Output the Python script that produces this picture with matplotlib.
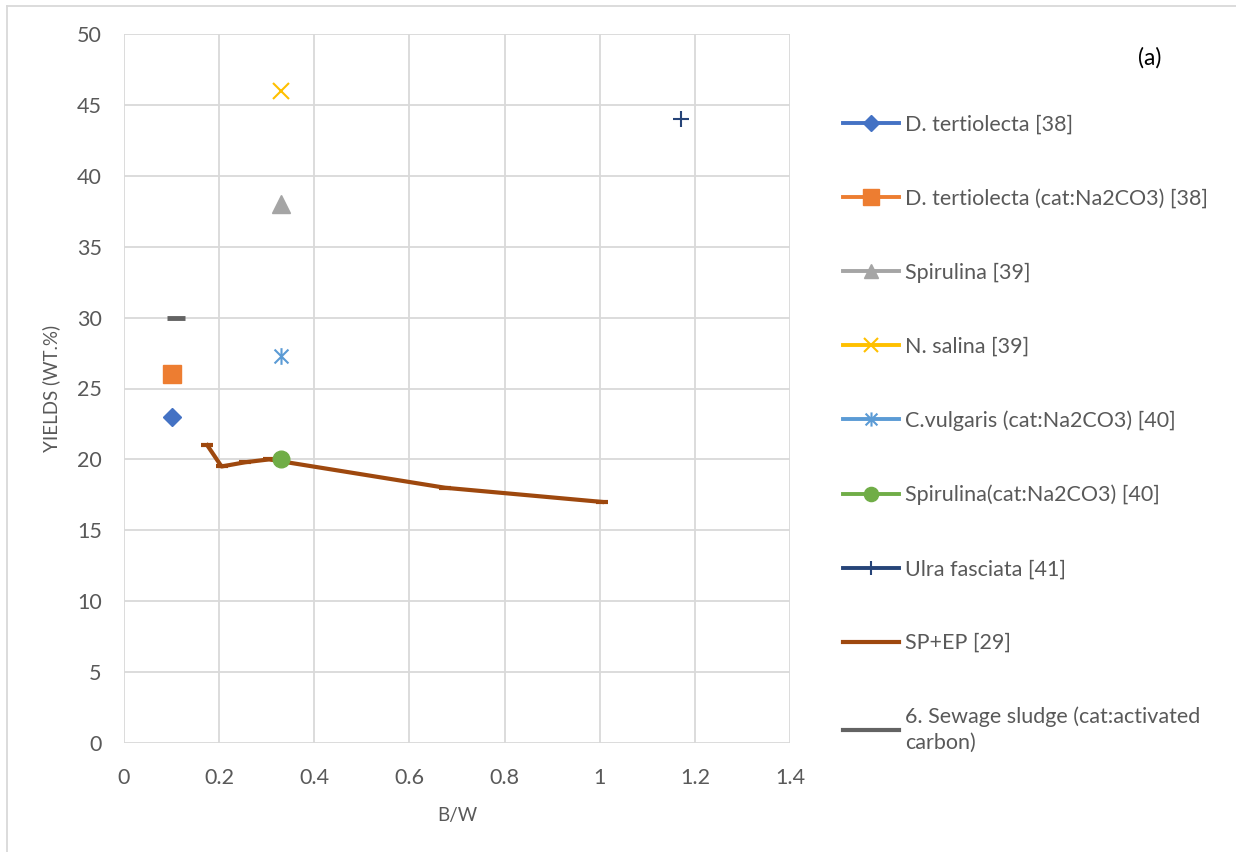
import numpy as np
import matplotlib.pyplot as plt
from matplotlib.path import Path
from matplotlib.lines import Line2D

# series (B/W ratio vs yield wt.%)
names = [
    "D. tertiolecta [38]",
    "D. tertiolecta (cat:Na2CO3) [38]",
    "Spirulina [39]",
    "N. salina [39]",
    "C.vulgaris (cat:Na2CO3) [40]",
    "Spirulina(cat:Na2CO3) [40]",
    "Ulra fasciata [41]",
]
point_x = [0.10, 0.10, 0.33, 0.33, 0.33, 0.33, 1.17]
point_y = [23.0, 26.0, 38.0, 46.0, 27.3, 20.0, 44.0]

sp_ep_x = [0.175, 0.205, 0.255, 0.305, 0.675, 1.005]
sp_ep_y = [21.0, 19.5, 19.8, 20.0, 18.0, 17.0]

sludge_x = [0.11]
sludge_y = [30.0]

x_ticks = [0, 0.2, 0.4, 0.6, 0.8, 1.0, 1.2, 1.4]
x_tick_labels = ["0", "0.2", "0.4", "0.6", "0.8", "1", "1.2", "1.4"]
y_ticks = [0, 5, 10, 15, 20, 25, 30, 35, 40, 45, 50]

plt.rcParams['font.family'] = ['Lato', 'DejaVu Sans']

# asterisk marker like Excel's (x plus vertical bar)
star = Path(
    [(-0.5, -0.5), (0.5, 0.5), (-0.5, 0.5), (0.5, -0.5), (0, -0.6), (0, 0.6)],
    [Path.MOVETO, Path.LINETO, Path.MOVETO, Path.LINETO, Path.MOVETO, Path.LINETO],
)

styles = [
    dict(color="#4472C4", marker="D", ms=9),
    dict(color="#ED7D31", marker="s", ms=13),
    dict(color="#A5A5A5", marker="^", ms=12.5),
    dict(color="#FFC000", marker="x", ms=12, mew=1.5),
    dict(color="#5B9BD5", marker=star, ms=12, mew=1.5),
    dict(color="#70AD47", marker="o", ms=12),
    dict(color="#264478", marker="+", ms=12, mew=1.5),
]

fig = plt.figure(figsize=(12.36, 8.52), dpi=100)
ax = fig.add_axes([124 / 1236, 109 / 852, 666 / 1236, 709 / 852])

handles = []
for i in range(len(names)):
    st = styles[i]
    ax.plot([point_x[i]], [point_y[i]], linestyle="none", color=st["color"],
            marker=st["marker"], ms=st["ms"], mew=st.get("mew", 1), zorder=4)
    handles.append(Line2D([], [], color=st["color"], lw=2.8, marker=st["marker"],
                          ms=st["ms"] * 0.85, mew=st.get("mew", 1)))

ax.plot(sp_ep_x, sp_ep_y, color="#9E480E", lw=3, marker="_", ms=9, mew=3, zorder=3)
handles.append(Line2D([], [], color="#9E480E", lw=3))
ax.plot(sludge_x, sludge_y, linestyle="none", color="#636363", marker="_", ms=13, mew=3.5, zorder=4)
handles.append(Line2D([], [], color="#636363", lw=3))

labels = names + ["SP+EP [29]", "6. Sewage sludge (cat:activated\ncarbon)"]

ax.set_xlim(0, 1.4)
ax.set_ylim(0, 50)
ax.set_xticks(x_ticks)
ax.set_xticklabels(x_tick_labels)
ax.set_yticks(y_ticks)
ax.grid(True, color="#D9D9D9", lw=1.3)
ax.set_axisbelow(True)
for s in ax.spines.values():
    s.set_visible(False)
ax.tick_params(length=0, labelsize=15.5, labelcolor="#595959")
ax.tick_params(axis="y", pad=16)
ax.tick_params(axis="x", pad=18)
ax.set_xlabel("B/W", fontsize=13.5, color="#595959", labelpad=14)
ax.set_ylabel("YIELDS (WT.%)", fontsize=13.5, color="#595959", labelpad=12)

leg = fig.legend(handles, labels, loc="upper left", bbox_to_anchor=(843 / 1236, 1 - 115 / 852),
                 frameon=False, fontsize=15.5, labelcolor="#595959", handlelength=2.6,
                 handletextpad=0.3, labelspacing=2.5, borderpad=0, borderaxespad=0)
for t in leg.get_texts():
    t.set_linespacing(1.35)

fig.text(1150 / 1236, 1 - 58 / 852, "(a)", fontsize=16.5, ha="center", va="center", color="black")

# outer chart frame
fig.add_artist(Line2D([7 / 1236, 7 / 1236], [0, 1 - 6 / 852], color="#D9D9D9", lw=1.3))
fig.add_artist(Line2D([7 / 1236, 1], [1 - 6 / 852, 1 - 6 / 852], color="#D9D9D9", lw=1.3))

fig.savefig("out.png", dpi=100)
